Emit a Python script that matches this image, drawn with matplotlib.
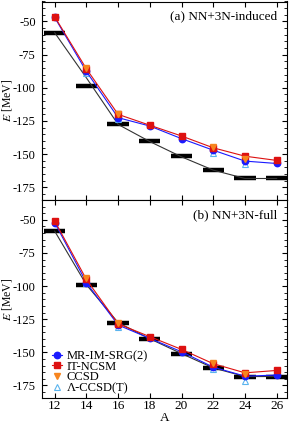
import numpy as np
import matplotlib.pyplot as plt
from matplotlib.ticker import MultipleLocator

plt.rcParams['font.family'] = ['Liberation Serif', 'DejaVu Serif']
plt.rcParams['mathtext.fontset'] = 'stix'
plt.rcParams['axes.unicode_minus'] = False
plt.rcParams['font.size'] = 9.5

A = np.array([12, 14, 16, 18, 20, 22, 24, 26])
A_cc = np.array([14, 16, 22, 24])
experiment = [-58.5, -99.0, -127.6, -139.8, -151.0, -161.8, -168.3, -168.3]

# (a) NN+3N-induced
black_a = [-58.5, -92.5, -127.6, -140.5, -152.0, -162.0, -168.3, -168.3]
imsrg_a = [-47.0, -87.7, -122.5, -128.8, -138.3, -147.0, -155.2, -157.0]
ncsm_a = [-46.5, -85.7, -120.0, -128.2, -136.3, -145.2, -151.5, -154.7]
ccsd_a = [-85.0, -120.0, -144.5, -153.5]
lccsdt_a = [-89.0, -123.2, -149.0, -157.7]

# (b) NN+3N-full
black_b = [-58.5, -99.0, -127.6, -139.8, -151.0, -161.8, -168.3, -168.3]
imsrg_b = [-52.0, -97.4, -129.4, -139.5, -149.6, -161.2, -168.0, -167.2]
ncsm_b = [-50.8, -95.0, -128.5, -138.2, -147.8, -158.6, -165.5, -163.7]
ccsd_b = [-94.1, -127.6, -157.9, -166.7]
lccsdt_b = [-98.0, -131.0, -162.9, -171.3]

panels = [
    ('(a) NN+3N-induced', black_a, imsrg_a, ncsm_a, ccsd_a, lccsdt_a),
    ('(b) NN+3N-full', black_b, imsrg_b, ncsm_b, ccsd_b, lccsdt_b),
]

fig = plt.figure(figsize=(2.91, 4.26), dpi=100)
ax_a = fig.add_axes([42 / 291, (426 - 200) / 426, 245 / 291, 198.5 / 426])
ax_b = fig.add_axes([42 / 291, (426 - 398) / 426, 245 / 291, 198 / 426])

for ax, (title, black, imsrg, ncsm, ccsd, lccsdt) in zip([ax_a, ax_b], panels):
    ax.hlines(experiment, A - 0.67, A + 0.67, colors='black', lw=3.2, zorder=2)
    ax.plot(A, black, color='#333333', lw=0.8, zorder=3)
    ax.plot(A_cc, lccsdt, ls='none', marker='^', ms=4.5, mfc='none',
            mec='#5ab4ee', mew=0.8, zorder=4, label='Λ-CCSD(T)')
    ax.plot(A, imsrg, color='#1a1aff', lw=0.8, marker='o', ms=4.6,
            zorder=5, label='MR-IM-SRG(2)')
    ax.plot(A, ncsm, color='#dd1111', lw=0.8, marker='s', ms=4.0,
            zorder=6, label='IT-NCSM')
    ax.plot(A_cc, ccsd, ls='none', marker='v', ms=4.5, color='#f7851e',
            zorder=7, label='CCSD')

    ax.set_xlim(11.2, 26.65)
    ax.set_ylim(-184.5, -35)
    ax.xaxis.set_major_locator(MultipleLocator(2))
    ax.yaxis.set_major_locator(MultipleLocator(25))
    ax.yaxis.set_minor_locator(MultipleLocator(5))
    ax.tick_params(which='both', direction='in', top=True, right=True, labelsize=9.5)
    ax.tick_params(axis='y', labelsize=9)
    ax.tick_params(which='major', length=3.5, width=0.8)
    ax.tick_params(which='minor', length=2, width=0.6)
    ax.tick_params(axis='y', which='major', pad=4.5)
    ax.tick_params(axis='x', which='major', pad=1.5)
    for s in ax.spines.values():
        s.set_linewidth(0.8)
    ax.set_ylabel('$E$ [MeV]', fontsize=8.5)
    ax.yaxis.set_label_coords(-0.113, 0.5)
    ax.text(0.96, 0.955, title, transform=ax.transAxes, ha='right', va='top',
            fontsize=9.5)

ax_a.tick_params(labelbottom=False)
ax_b.set_xlabel('A', fontsize=9.5, labelpad=0)

handles, labels = ax_b.get_legend_handles_labels()
order = [1, 2, 3, 0]
ax_b.legend([handles[i] for i in order], [labels[i] for i in order],
            loc='lower left', frameon=False, fontsize=9, handlelength=0.8,
            handletextpad=0.4, labelspacing=-0.1, borderaxespad=0.2,
            borderpad=0.1, bbox_to_anchor=(0.025, 0.0))

fig.savefig('out.png', dpi=100)
